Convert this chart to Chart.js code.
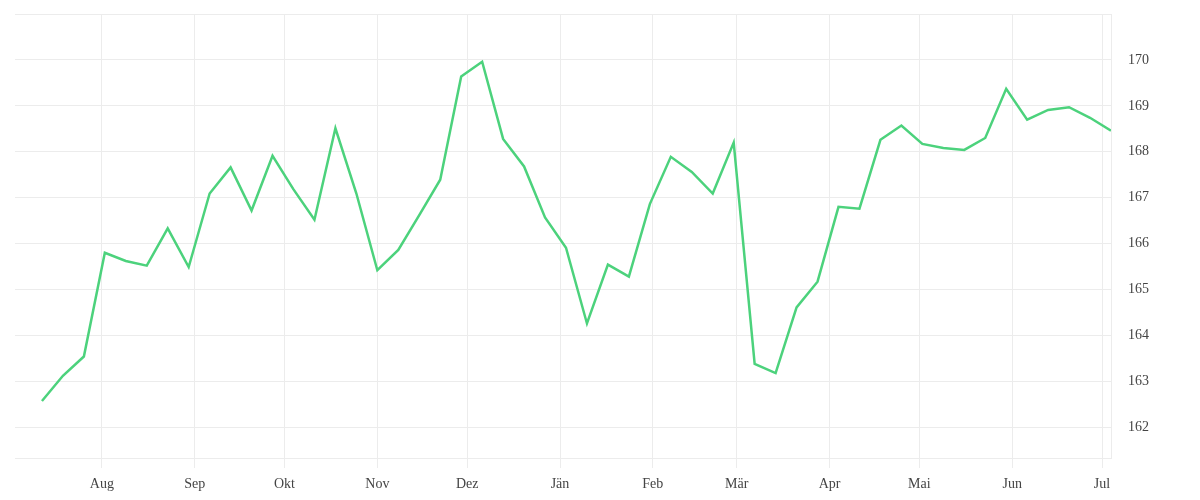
<!DOCTYPE html>
<html>
<head>
<meta charset="utf-8">
<script src="https://cdn.jsdelivr.net/npm/chart.js@4"></script>
<style>
  body { margin: 0; background: #fff; }
  #wrap { width: 1200px; height: 500px; }
</style>
</head>
<body>
<div id="wrap"><canvas id="myChart"></canvas></div>
<script>
const baseDate = "2022-08-01";
const rangeStart = "2022-07-03";
const rangeEnd = "2023-07-04";

const weeks = [
  "2022-07-12", "2022-07-19", "2022-07-26", "2022-08-02", "2022-08-09", "2022-08-16",
  "2022-08-23", "2022-08-30", "2022-09-06", "2022-09-13", "2022-09-20", "2022-09-27",
  "2022-10-04", "2022-10-11", "2022-10-18", "2022-10-25", "2022-11-01", "2022-11-08",
  "2022-11-15", "2022-11-22", "2022-11-29", "2022-12-06", "2022-12-13", "2022-12-20",
  "2022-12-27", "2023-01-03", "2023-01-10", "2023-01-17", "2023-01-24", "2023-01-31",
  "2023-02-07", "2023-02-14", "2023-02-21", "2023-02-28", "2023-03-07", "2023-03-14",
  "2023-03-21", "2023-03-28", "2023-04-04", "2023-04-11", "2023-04-18", "2023-04-25",
  "2023-05-02", "2023-05-09", "2023-05-16", "2023-05-23", "2023-05-30", "2023-06-06",
  "2023-06-13", "2023-06-20", "2023-06-27", "2023-07-04"
];

const prices = [
  162.57, 163.12, 163.54, 165.80, 165.62, 165.52,
  166.33, 165.49, 167.09, 167.66, 166.72, 167.91,
  167.18, 166.52, 168.51, 167.09, 165.42, 165.86,
  166.62, 167.39, 169.64, 169.96, 168.28, 167.68,
  166.57, 165.91, 164.26, 165.54, 165.28, 166.86,
  167.89, 167.56, 167.09, 168.20, 163.38, 163.18,
  164.61, 165.17, 166.80, 166.76, 168.26, 168.57,
  168.17, 168.08, 168.04, 168.30, 169.37, 168.70,
  168.91, 168.97, 168.74, 168.46
];

const monthStarts = [
  "2022-08-01", "2022-09-01", "2022-10-01", "2022-11-01", "2022-12-01", "2023-01-01",
  "2023-02-01", "2023-03-01", "2023-04-01", "2023-05-01", "2023-06-01", "2023-07-01"
];
const monthLabels = ["Aug", "Sep", "Okt", "Nov", "Dez", "Jän", "Feb", "Mär", "Apr", "Mai", "Jun", "Jul"];

const yMin = 161.33;
const yMax = 171;
const yTickValues = [162, 163, 164, 165, 166, 167, 168, 169, 170];

// day number relative to Aug 1
function dayNum(s) {
  return (Date.parse(s) - Date.parse(baseDate)) / 86400000;
}

const points = weeks.map((d, i) => ({ x: dayNum(d), y: prices[i] }));
const gridColor = "#ececec";
const tickFont = { family: "'Liberation Serif', serif", size: 14 };

const ctx = document.getElementById("myChart").getContext("2d");
const chart = new Chart(ctx, {
  type: "line",
  data: {
    datasets: [
      {
        data: points,
        borderColor: "#4cd27c",
        borderWidth: 2.5,
        pointRadius: 0,
        tension: 0,
        fill: false,
      },
    ],
  },
  options: {
    responsive: true,
    maintainAspectRatio: false,
    animation: false,
    layout: { padding: { left: 15, top: 14, right: 0, bottom: 0 } },
    plugins: { legend: { display: false }, tooltip: { enabled: false } },
    scales: {
      x: {
        type: "linear",
        min: dayNum(rangeStart),
        max: dayNum(rangeEnd),
        afterBuildTicks: (scale) => {
          scale.ticks = monthStarts.map((m) => ({ value: dayNum(m) }));
        },
        afterFit: (scale) => {
          scale.height = 42;
          scale.paddingLeft = 0;
          scale.paddingRight = 0;
        },
        ticks: {
          autoSkip: false,
          maxRotation: 0,
          padding: 8,
          color: "#444",
          font: tickFont,
          callback: (value, index) => monthLabels[index],
        },
        grid: { color: gridColor, lineWidth: 1, drawTicks: true, tickLength: 10 },
        border: { display: false },
      },
      y: {
        position: "right",
        min: yMin,
        max: yMax,
        afterBuildTicks: (scale) => {
          scale.ticks = [yMin, ...yTickValues, yMax].map((v) => ({ value: v }));
        },
        afterFit: (scale) => {
          scale.width = 89;
          scale.paddingTop = 0;
          scale.paddingBottom = 0;
        },
        ticks: {
          padding: 17,
          color: "#444",
          font: tickFont,
          callback: (value) => (yTickValues.includes(value) ? String(value) : ""),
        },
        grid: { color: gridColor, lineWidth: 1, drawTicks: false },
        border: { display: true, color: gridColor },
      },
    },
  },
});
</script>
</body>
</html>
